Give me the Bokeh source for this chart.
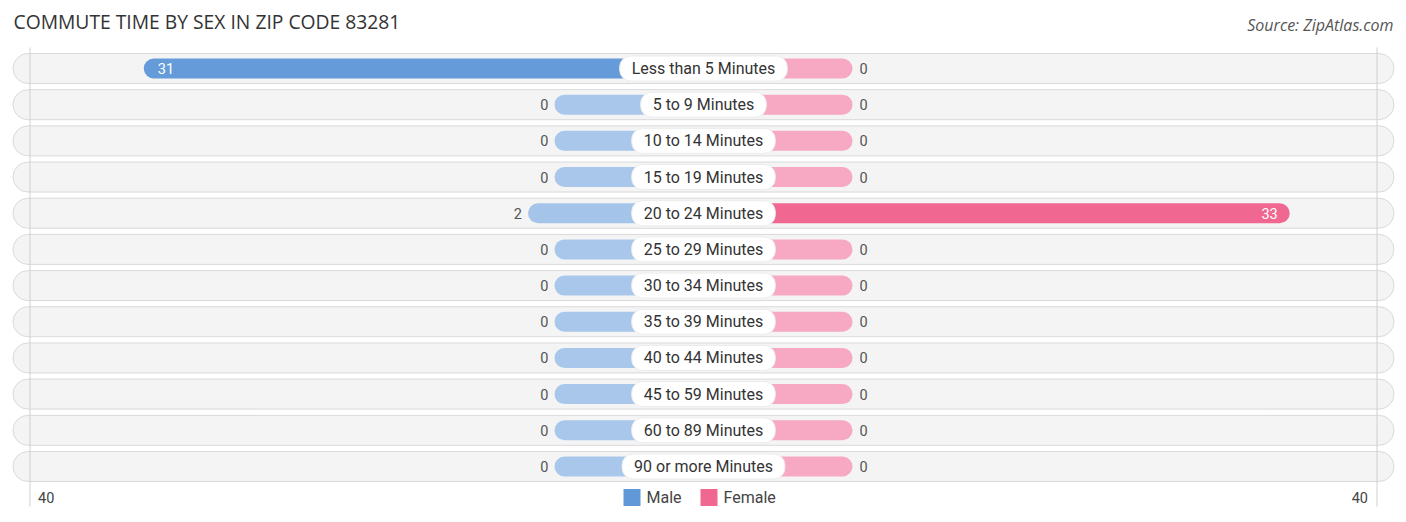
from bokeh.plotting import figure
from bokeh.models import Range1d, ColumnDataSource
from bokeh.core.properties import value
from bokeh.embed import file_html
from bokeh.resources import INLINE

# ---------------- data ----------------
categories = [
    "Less than 5 Minutes", "5 to 9 Minutes", "10 to 14 Minutes", "15 to 19 Minutes",
    "20 to 24 Minutes", "25 to 29 Minutes", "30 to 34 Minutes", "35 to 39 Minutes",
    "40 to 44 Minutes", "45 to 59 Minutes", "60 to 89 Minutes", "90 or more Minutes",
]
male = [31, 0, 0, 0, 2, 0, 0, 0, 0, 0, 0, 0]
female = [0, 0, 0, 0, 33, 0, 0, 0, 0, 0, 0, 0]
axis_max = 40
axis_labels = ["40", "40"]
series_names = ["Male", "Female"]
title_text = "COMMUTE TIME BY SEX IN ZIP CODE 83281"
source_text = "Source: ZipAtlas.com"

# ---------------- layout constants ----------------
W, H = 1400, 516
CX = 703.0          # center in px
S = 13.25           # px per unit
STUB = 149.0 / S    # minimum bar length (units)
ROW0 = 68.0
ROWH = 36.18
PILL = 690.5 / S
GRID = 673.5 / S    # position of the +-axis_max guide lines

MALE_STRONG = (97, 152, 216)
MALE_LIGHT = (169, 199, 235)
FEM_STRONG = (240, 103, 146)
FEM_LIGHT = (247, 168, 195)


def px2x(px):
    return (px - CX) / S


def py2y(py):
    return (py - ROW0) / ROWH


def mix(a, b, t):
    return "#%02x%02x%02x" % tuple(int(round(a[i] + (b[i] - a[i]) * t)) for i in range(3))


vmax = max(max(male), max(female))
ys = list(range(len(categories)))

p = figure(width=W, height=H, output_backend="svg", toolbar_location=None,
           x_range=Range1d(-CX / S, (W - CX) / S),
           y_range=Range1d(py2y(H), py2y(0)),
           min_border=0, min_border_left=0, min_border_right=0,
           min_border_top=0, min_border_bottom=0)
p.xaxis.visible = False
p.yaxis.visible = False
p.xgrid.visible = False
p.ygrid.visible = False
p.outline_line_color = None
p.background_fill_color = "white"
p.border_fill_color = "white"

# row pills
p.hbar(y=ys, left=-PILL, right=PILL, height=30 / ROWH, fill_color="#f4f4f4",
       line_color="#d9d9d9", line_width=1, border_radius=15)

# guide lines at +-axis_max
gx = [-GRID, GRID]
p.segment(x0=gx, x1=gx, y0=[py2y(47)] * 2, y1=[py2y(506)] * 2,
          line_color="#cfcfcf", line_width=1)

# bars
male_src = ColumnDataSource(dict(
    y=ys, left=[-(STUB + v) for v in male], right=[0] * len(male),
    color=[mix(MALE_LIGHT, MALE_STRONG, v / vmax) for v in male]))
fem_src = ColumnDataSource(dict(
    y=ys, left=[0] * len(female), right=[STUB + v for v in female],
    color=[mix(FEM_LIGHT, FEM_STRONG, v / vmax) for v in female]))
p.hbar(y="y", left="left", right="right", height=20 / ROWH, fill_color="color",
       line_color=None, border_radius=10, source=male_src)
p.hbar(y="y", left="left", right="right", height=20 / ROWH, fill_color="color",
       line_color=None, border_radius=10, source=fem_src)

# category labels (white pills)
p.text(x=[0] * len(categories), y=ys, text=categories, text_align="center",
       text_baseline="middle", text_font=value("Roboto"), text_font_size="16px",
       text_color="#333333", background_fill_color="white",
       border_line_color="#ececec", padding=(12, 3), border_radius=11)

# value labels
INSIDE = 10
for vals, sign in ((male, -1), (female, 1)):
    for inside in (False, True):
        xs, yy, tt = [], [], []
        for i, v in enumerate(vals):
            if (v >= INSIDE) == inside:
                xs.append(sign * (STUB + v))
                yy.append(i)
                tt.append(str(v))
        if not xs:
            continue
        if inside:
            align = "left" if sign < 0 else "right"
            off = 14 if sign < 0 else -12
            col = "white"
        else:
            align = "right" if sign < 0 else "left"
            off = -6 if sign < 0 else 7
            col = "#555555"
        p.text(x=xs, y=yy, text=tt, text_align=align, text_baseline="middle",
               x_offset=off, text_font=value("Roboto"), text_font_size="14.5px",
               text_color=col)

# axis end labels
ly = py2y(497)
p.text(x=[gx[0]], y=[ly], text=[axis_labels[0]], x_offset=8, text_align="left",
       text_baseline="middle", text_font=value("Roboto"), text_font_size="14.5px",
       text_color="#444444")
p.text(x=[gx[1]], y=[ly], text=[axis_labels[1]], x_offset=-9, text_align="right",
       text_baseline="middle", text_font=value("Roboto"), text_font_size="14.5px",
       text_color="#444444")

# legend
p.scatter(x=[px2x(631.5), px2x(708.5)], y=[ly, ly], marker="square", size=17,
          fill_color=[mix(MALE_LIGHT, MALE_STRONG, 1), mix(FEM_LIGHT, FEM_STRONG, 1)],
          line_color=None)
p.text(x=[px2x(646), px2x(723)], y=[ly, ly], text=series_names, text_align="left",
       text_baseline="middle", text_font=value("Roboto"), text_font_size="16px",
       text_color="#444444")

# title and source
p.text(x=[px2x(13)], y=[py2y(21)], text=[title_text], text_align="left",
       text_baseline="middle", text_font=value("Open Sans"), text_font_size="19.3px",
       text_color="#333333")
p.text(x=[px2x(1393)], y=[py2y(24)], text=[source_text], text_align="right",
       text_baseline="middle", text_font=value("Open Sans"), text_font_size="16px",
       text_font_style="italic", text_color="#555555")

open("out.html", "w").write(file_html(p, INLINE))
